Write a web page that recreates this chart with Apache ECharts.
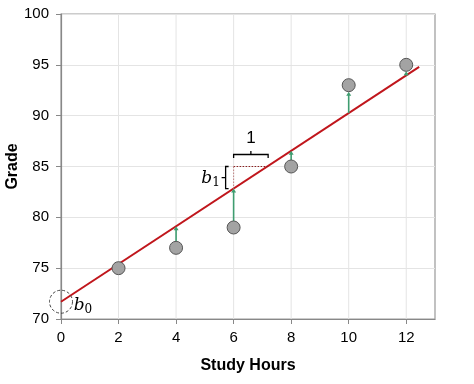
<!DOCTYPE html>
<html>
<head>
<meta charset="utf-8">
<script src="https://cdn.jsdelivr.net/npm/echarts@6/dist/echarts.min.js"></script>
<style>html,body{margin:0;padding:0;background:#fff}#c{width:474px;height:384px}</style>
</head>
<body>
<div id="c"></div>
<script>
// Data
var studyHours = [2, 4, 6, 8, 10, 12];
var grades = [75, 77, 79, 85, 93, 95];
var xTicks = [0, 2, 4, 6, 8, 10, 12];
var yTicks = [70, 75, 80, 85, 90, 95, 100];
var lineIntercept = 71.7;   // b0 (as drawn)
var lineSlope = 1.855;      // b1 (as drawn)
var lineXRange = [0, 12.45];

function fit(x) { return lineIntercept + lineSlope * x; }

var pts = studyHours.map(function (x, i) { return [x, grades[i]]; });
var fitLine = lineXRange.map(function (x) { return [x, fit(x)]; });
var residuals = studyHours.map(function (x, i) { return [x, grades[i], fit(x)]; })
  .filter(function (d) { return Math.abs(d[1] - d[2]) > 0.5; });

var chart = echarts.init(document.getElementById('c'), null, {renderer: 'canvas'});
var font = '"Liberation Sans", Arial, sans-serif';
var GREEN = '#3f9d70';
var RED = '#c0161c';
var R = 6.5;

var option = {
  animation: false,
  grid: {left: 61, top: 14, right: 39, bottom: 65, show: true, borderColor: '#999', borderWidth: 1.2,
         containLabel: false, outerBoundsMode: 'none'},
  xAxis: {
    type: 'value', min: 0, max: 13, interval: 1,
    name: 'Study Hours', nameLocation: 'middle', nameGap: 39,
    nameTextStyle: {fontFamily: font, fontSize: 16, fontWeight: 'bold', color: '#000'},
    axisLine: {lineStyle: {color: '#888', width: 1.2}},
    axisTick: {show: true, length: 5, lineStyle: {color: '#888'}, customValues: xTicks},
    axisLabel: {fontFamily: font, fontSize: 15, color: '#000', margin: 11, customValues: xTicks},
    splitLine: {show: false}
  },
  yAxis: {
    type: 'value', min: 70, max: 100, interval: 5,
    axisLine: {show: true, lineStyle: {color: '#888', width: 1.2}},
    axisTick: {show: true, length: 5, lineStyle: {color: '#888'}},
    axisLabel: {fontFamily: font, fontSize: 15, color: '#000', margin: 12},
    splitLine: {show: true, lineStyle: {color: '#e4e4e4'}}
  },
  series: [
    {
      type: 'custom', name: 'vgrid', silent: true, z: 1,
      data: xTicks.slice(1),
      renderItem: function (params, api) {
        var x = api.value(0);
        var p0 = api.coord([x, 70]), p1 = api.coord([x, 100]);
        return {type: 'line', shape: {x1: p0[0], y1: p0[1], x2: p1[0], y2: p1[1]}, style: {stroke: '#e4e4e4', lineWidth: 1}};
      }
    },
    {
      type: 'line', name: 'fit', data: fitLine, showSymbol: false, z: 3,
      lineStyle: {color: RED, width: 2}
    },
    {
      type: 'custom', name: 'residuals', z: 4,
      data: residuals,
      renderItem: function (params, api) {
        var x = api.value(0), yp = api.value(1), yl = api.value(2);
        var pp = api.coord([x, yp]), pl = api.coord([x, yl]);
        var lowY, highY;
        if (yp > yl) { lowY = pl[1]; highY = pp[1] + R; }
        else { lowY = pp[1] - R; highY = pl[1]; }
        var px = pp[0];
        var h = 4, w = 2.5;
        return {type: 'group', children: [
          {type: 'line', shape: {x1: px, y1: lowY, x2: px, y2: highY + h - 1}, style: {stroke: GREEN, lineWidth: 1.6}},
          {type: 'polygon', shape: {points: [[px, highY], [px - w, highY + h], [px + w, highY + h]]}, style: {fill: GREEN}}
        ]};
      }
    },
    {
      type: 'scatter', name: 'grades', data: pts, z: 5, symbolSize: 13,
      itemStyle: {color: '#a3a3a3', borderColor: '#555', borderWidth: 1, opacity: 1}
    }
  ]
};
chart.setOption(option);

function toPx(x, y) { return chart.convertToPixel({gridIndex: 0}, [x, y]); }
var a = toPx(6, 85), b = toPx(7.2, 85), c = toPx(6, fit(6)), o = toPx(0, lineIntercept);
var yTopPx = toPx(0, 100)[1], yBotPx = toPx(0, 70)[1];
var gy = a[1] - 12;
var g = [];
// y axis title
g.push({type: 'text', x: 13, y: (yTopPx + yBotPx) / 2, rotation: Math.PI / 2,
  style: {text: 'Grade', fontFamily: font, fontSize: 16, fontWeight: 'bold', fill: '#000', align: 'center', verticalAlign: 'middle'}, z: 10});
// dotted lines
g.push({type: 'line', shape: {x1: a[0], y1: a[1], x2: b[0], y2: b[1]}, style: {stroke: '#8a2020', lineWidth: 1, lineDash: [1.5, 1.5]}, z: 10});
g.push({type: 'line', shape: {x1: a[0], y1: a[1], x2: c[0], y2: c[1]}, style: {stroke: '#c08080', lineWidth: 1, lineDash: [1.5, 1.5]}, z: 10});
// horizontal brace
g.push({type: 'polyline', shape: {points: [[a[0], gy + 3.5], [a[0], gy], [(a[0] + b[0]) / 2, gy], [(a[0] + b[0]) / 2, gy - 3.5], [(a[0] + b[0]) / 2, gy], [b[0], gy], [b[0], gy + 3.5]]}, style: {stroke: '#000', lineWidth: 1.3, fill: null}, z: 10});
g.push({type: 'text', x: (a[0] + b[0]) / 2, y: gy - 16, style: {text: '1', fontFamily: font, fontSize: 17, fill: '#000', align: 'center', verticalAlign: 'middle'}, z: 10});
// vertical brace
var bx = a[0] - 8;
var my = (a[1] + c[1]) / 2;
g.push({type: 'polyline', shape: {points: [[bx + 3, a[1]], [bx, a[1]], [bx, my], [bx - 4, my], [bx, my], [bx, c[1]], [bx + 3, c[1]]]}, style: {stroke: '#000', lineWidth: 1.3, fill: null}, z: 10});
g.push({type: 'text', x: bx - 15, y: my + 1, style: {text: '{b|b}{s|1}', rich: {b: {font: 'italic 17px DejaVu Serif, serif', fill: '#000'}, s: {font: '12px DejaVu Serif, serif', fill: '#000', padding: [8, 0, 0, 0]}}, align: 'center', verticalAlign: 'middle'}, z: 10});
// intercept circle
g.push({type: 'circle', shape: {cx: o[0], cy: o[1], r: 11.5}, style: {stroke: '#444', lineWidth: 1, lineDash: [3, 2], fill: null}, z: 10});
g.push({type: 'text', x: o[0] + 22, y: o[1] + 4, style: {text: '{b|b}{s|0}', rich: {b: {font: 'italic 17px DejaVu Serif, serif', fill: '#000'}, s: {font: '12px DejaVu Serif, serif', fill: '#000', padding: [8, 0, 0, 0]}}, align: 'center', verticalAlign: 'middle'}, z: 10});
chart.setOption({graphic: g});
</script>
</body>
</html>
